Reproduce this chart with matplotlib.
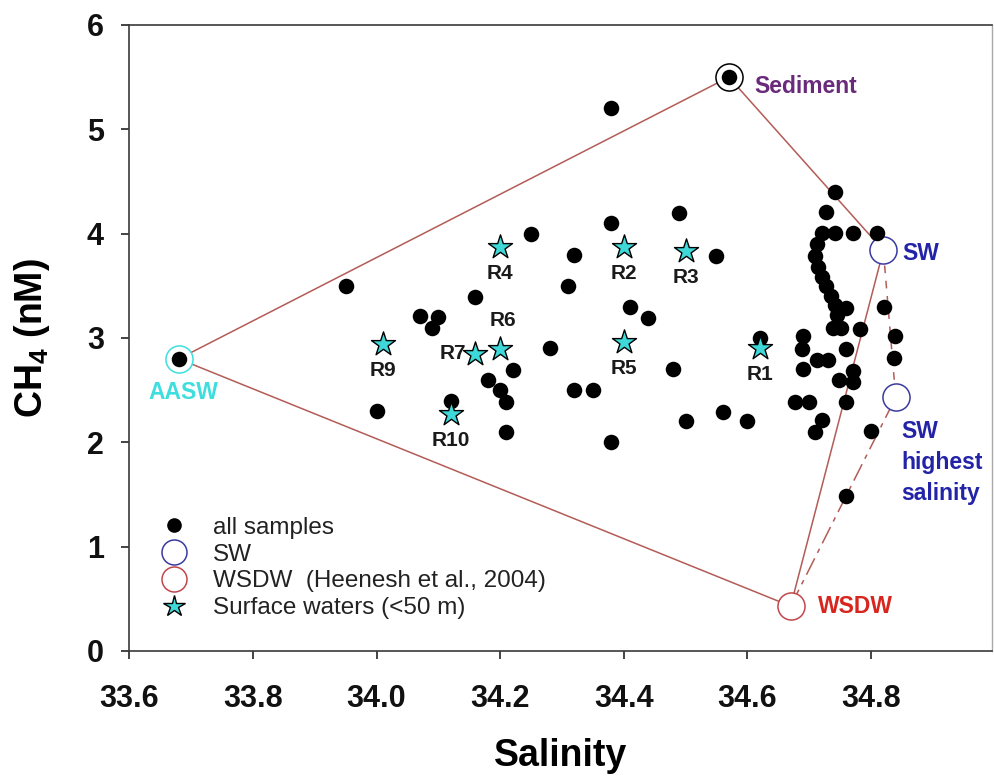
import matplotlib
matplotlib.use('Agg')
import matplotlib.pyplot as plt
from matplotlib.lines import Line2D

plt.rcParams['font.family'] = ['Liberation Sans', 'DejaVu Sans']
plt.rcParams['mathtext.fontset'] = 'custom'
plt.rcParams['mathtext.rm'] = 'Liberation Sans:bold'
plt.rcParams['mathtext.bf'] = 'Liberation Sans:bold'
plt.rcParams['mathtext.default'] = 'bf'

# ---------------- data ----------------
sample_sal = [33.68, 33.95, 34.00, 34.07, 34.10, 34.09, 34.12, 34.16, 34.18, 34.20,
              34.21, 34.21, 34.22, 34.25, 34.28, 34.31, 34.32, 34.32, 34.35, 34.38,
              34.38, 34.38, 34.41, 34.44, 34.48, 34.49, 34.50, 34.55, 34.56, 34.60,
              34.62, 34.57,
              34.741, 34.728, 34.720, 34.741, 34.771, 34.809, 34.712, 34.709, 34.714,
              34.720, 34.728, 34.736, 34.741, 34.745, 34.760, 34.821, 34.739, 34.752,
              34.782, 34.839, 34.838, 34.690, 34.688, 34.712, 34.731, 34.760, 34.690,
              34.749, 34.771, 34.771, 34.677, 34.700, 34.760, 34.720, 34.709, 34.800,
              34.760]
sample_ch4 = [2.80, 3.50, 2.30, 3.21, 3.20, 3.10, 2.40, 3.39, 2.60, 2.50,
              2.39, 2.10, 2.69, 4.00, 2.90, 3.50, 3.80, 2.50, 2.50, 5.20,
              4.10, 2.00, 3.30, 3.19, 2.70, 4.20, 2.20, 3.79, 2.29, 2.20,
              3.00, 5.50,
              4.40, 4.21, 4.01, 4.01, 4.01, 4.01, 3.90, 3.79, 3.68,
              3.58, 3.50, 3.40, 3.32, 3.22, 3.29, 3.30, 3.10, 3.10,
              3.09, 3.02, 2.81, 3.02, 2.89, 2.79, 2.79, 2.89, 2.70,
              2.60, 2.68, 2.58, 2.39, 2.39, 2.39, 2.21, 2.10, 2.11,
              1.49]

surface_labels = ['R1', 'R2', 'R3', 'R4', 'R5', 'R6', 'R7', 'R9', 'R10']
surface_sal = [34.62, 34.40, 34.50, 34.20, 34.40, 34.20, 34.16, 34.01, 34.12]
surface_ch4 = [2.90, 3.87, 3.83, 3.87, 2.96, 2.89, 2.85, 2.94, 2.27]

end_names = ['AASW', 'Sediment', 'SW', 'SW\nhighest\nsalinity', 'WSDW']
end_sal = [33.68, 34.57, 34.82, 34.84, 34.67]
end_ch4 = [2.80, 5.50, 3.84, 2.43, 0.43]

x_ticks = [33.6, 33.8, 34.0, 34.2, 34.4, 34.6, 34.8]
x_tick_labels = ['33.6', '33.8', '34.0', '34.2', '34.4', '34.6', '34.8']
y_ticks = [0, 1, 2, 3, 4, 5, 6]

legend_labels = ['all samples', 'SW', 'WSDW  (Heenesh et al., 2004)',
                 'Surface waters (<50 m)']

# ---------------- styles ----------------
line_col = '#b35c57'
blue_edge = '#3a3aa0'
blue_txt = '#2323a8'
red_edge = '#c0474c'
red_txt = '#d8261f'
cyan = '#3fdede'
purple = '#6a2a7c'
star_col = '#3fd8d8'

fig = plt.figure(figsize=(9.94, 7.8), dpi=100)
ax = fig.add_axes([0.1301, 0.1654, 0.8674, 0.8026])

# mixing lines (index pairs into end-member arrays)
solid_pairs = [(0, 1), (1, 2), (0, 4), (4, 2)]
for a, b in solid_pairs:
    ax.plot([end_sal[a], end_sal[b]], [end_ch4[a], end_ch4[b]],
            color=line_col, lw=1.1, zorder=1)
ax.plot([end_sal[4], end_sal[3]], [end_ch4[4], end_ch4[3]],
        color=line_col, lw=1.1, ls=(0, (12, 4, 3, 4)), zorder=1)
ax.plot([end_sal[2], end_sal[3]], [end_ch4[2], end_ch4[3]],
        color=line_col, lw=1.1, ls=(0, (5, 5)), zorder=1)

# end-member circles
end_edge = [cyan, 'black', blue_edge, blue_edge, red_edge]
for s, c, ec in zip(end_sal, end_ch4, end_edge):
    ax.plot(s, c, marker='o', ms=19.5, mfc='white', mec=ec, mew=1.1,
            ls='None', zorder=2)

# all samples
ax.scatter(sample_sal, sample_ch4, s=125, c='black', zorder=3, linewidths=0)

# surface waters
ax.scatter(surface_sal, surface_ch4, s=330, marker='*', c=star_col,
           edgecolors='black', linewidths=1.0, zorder=4)

label_offsets = {'R6': (2, 14, 'center', 'bottom'),
                 'R7': (-7, 0, 'right', 'center')}
for lab, s, c in zip(surface_labels, surface_sal, surface_ch4):
    dx, dy, ha, va = label_offsets.get(lab, (0, -12, 'center', 'top'))
    ax.annotate(lab, (s, c), xytext=(dx, dy), textcoords='offset points',
                ha=ha, va=va, fontsize=15, fontweight='bold', color='#1a1a1a',
                zorder=5)

# end-member labels
end_text = [(3.5, -24, 'center', 'center', cyan),
            (18.5, -7, 'left', 'center', purple),
            (13.7, -2, 'left', 'center', blue_txt),
            (4, -16.5, 'left', 'top', blue_txt),
            (19.7, 0, 'left', 'center', red_txt)]
for name, s, c, (dx, dy, ha, va, col) in zip(end_names, end_sal, end_ch4, end_text):
    ax.annotate(name, (s, c), xytext=(dx, dy), textcoords='offset points',
                ha=ha, va=va, fontsize=16.5, fontweight='bold', color=col,
                linespacing=1.44, zorder=5)

# axes
ax.set_xlim(33.6, 34.995)
ax.set_ylim(0, 6)
ax.set_xticks(x_ticks)
ax.set_xticklabels(x_tick_labels)
ax.set_yticks(y_ticks)
ax.tick_params(direction='out', length=5.8, width=1.1, labelsize=22,
               colors='#111111')
ax.tick_params(axis='x', pad=18)
ax.tick_params(axis='y', pad=12.5)
for lab in ax.get_xticklabels() + ax.get_yticklabels():
    lab.set_fontweight('bold')
for sp in ax.spines.values():
    sp.set_linewidth(1.2)
    sp.set_color('#3a3a3a')
ax.spines['right'].set_color('#aaaaaa')
ax.spines['right'].set_linewidth(1.0)

ax.set_xlabel('Salinity', fontsize=27, fontweight='bold', labelpad=17)
ax.set_ylabel(r'CH$_{4}$ (nM)', fontsize=27, fontweight='bold', labelpad=25)

# legend
handles = [Line2D([], [], marker='o', color='black', ls='None', ms=9.5),
           Line2D([], [], marker='o', mfc='none', mec=blue_edge, mew=1.1, ls='None', ms=18),
           Line2D([], [], marker='o', mfc='none', mec=red_edge, mew=1.1, ls='None', ms=18),
           Line2D([], [], marker='*', mfc=star_col, mec='black', mew=1.0, ls='None', ms=16)]
leg = ax.legend(handles, legend_labels, loc='lower left', bbox_to_anchor=(0.0, 0.0176),
                frameon=False, fontsize=17.5, handlelength=2.0, handletextpad=0.6,
                labelspacing=0.2, borderpad=0.4, borderaxespad=0.45)
for t in leg.get_texts():
    t.set_color('#222222')

fig.savefig('out.png', dpi=100)
